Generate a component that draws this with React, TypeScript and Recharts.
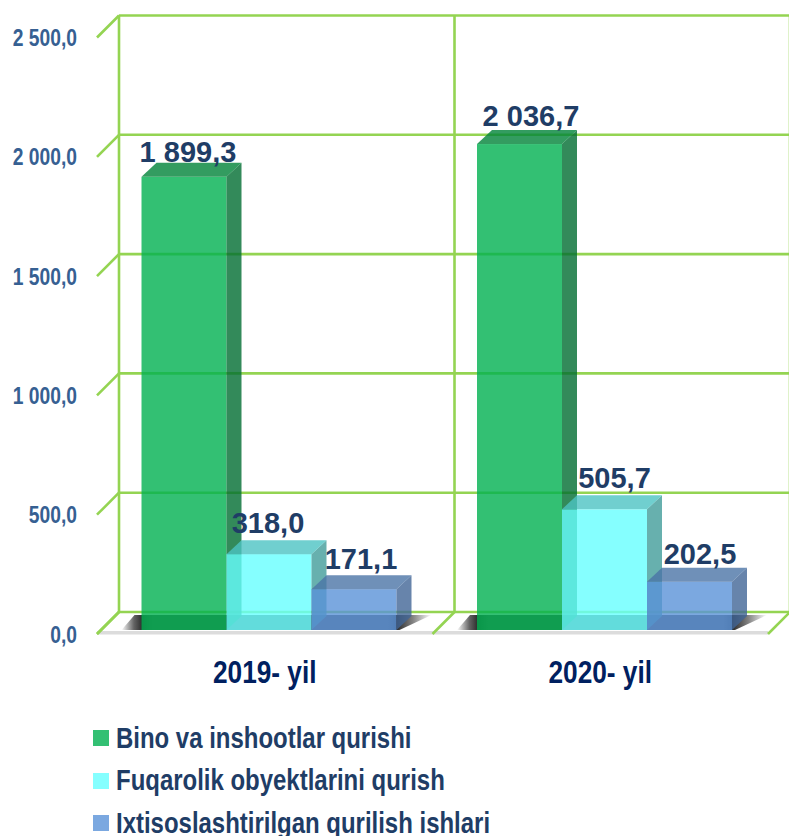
import { BarChart, Bar, XAxis, YAxis, CartesianGrid, Legend, LabelList } from 'recharts'

const years = ['2019- yil', '2020- yil']
const binoValues = [1899.3, 2036.7]
const fuqarolikValues = [318.0, 505.7]
const ixtisosValues = [171.1, 202.5]
const yTicks = [0, 500, 1000, 1500, 2000, 2500]

const data = years.map((year, i) => ({
  year,
  bino: binoValues[i],
  fuqarolik: fuqarolikValues[i],
  ixtisos: ixtisosValues[i],
}))

const SANS = '"Liberation Sans", Arial, sans-serif'
// no narrow face installed, so the axis and legend text is squeezed by hand
const NARROW_SCALE = 0.82
const LEGEND_SCALE = 0.826
const GRID = '#94d452'
const GRID_WIDTH = 2.6
const LABEL = '#1f3d66'

// how far the 3d walls sit from the plane the bars stand on
const WALL_DX = 18.5
const WALL_DY = -18
const FRONT_DX = -3.5
const FRONT_DY = 4
const DEPTH_X = 15
const DEPTH_Y = 14
const FILL_OPACITY = 0.8

const formatValue = (v: number) => {
  const [whole, frac] = v.toFixed(1).split('.')
  return `${whole.replace(/\B(?=(\d{3})+$)/g, ' ')},${frac}`
}

function Box3d({ x, y, width, height, fill, top, side, floorShadow }: any) {
  const base = y + height
  return (
    <g>
      {floorShadow && (
        <polygon
          points={`${x - 20},${base} ${x - 7},${base - 15} ${x + width * 3 + 35},${base - 15} ${x + width * 3 + 3},${base}`}
          fill="url(#floorShadow)"
        />
      )}
      <rect x={x} y={y} width={width} height={height} fill={fill} fillOpacity={FILL_OPACITY} />
      <polygon
        points={`${x + width},${y} ${x + width + DEPTH_X},${y - DEPTH_Y} ${x + width + DEPTH_X},${base - DEPTH_Y} ${x + width},${base}`}
        fill={side}
        fillOpacity={FILL_OPACITY}
      />
      <polygon
        points={`${x},${y} ${x + DEPTH_X},${y - DEPTH_Y} ${x + width + DEPTH_X},${y - DEPTH_Y} ${x + width},${y}`}
        fill={top}
        fillOpacity={FILL_OPACITY}
      />
    </g>
  )
}

// labels in the original are hand placed, so each has its own nudge
const makeLabel = (nudges: number[][]) => (props: any) => {
  const { x, y, width, value, index } = props
  const [dx, dy] = nudges[index]
  return (
    <text
      x={x + width / 2 + dx}
      y={y - dy}
      textAnchor="middle"
      fontFamily={SANS}
      fontWeight="bold"
      fontSize={29}
      fill={LABEL}
    >
      {formatValue(value)}
    </text>
  )
}

function WallRow({ x1, y1, x2, y2, index }: any) {
  const isFloor = index === 0
  return (
    <g key={`row-${index}`}>
      {isFloor && (
        <rect x={x1 + FRONT_DX} y={y1 + FRONT_DY - 3} width={x2 - x1} height={3.5} fill="#dcdcdc" />
      )}
      <line x1={x1 + WALL_DX} y1={y1 + WALL_DY} x2={x2 + WALL_DX} y2={y2 + WALL_DY} stroke={GRID} strokeWidth={GRID_WIDTH} />
      <line x1={x1 + FRONT_DX} y1={y1 + FRONT_DY} x2={x1 + WALL_DX} y2={y1 + WALL_DY} stroke={GRID} strokeWidth={GRID_WIDTH} />
    </g>
  )
}

function WallColumn({ x1, y1, x2, y2, index }: any) {
  return (
    <g key={`col-${index}`}>
      <line x1={x1 + WALL_DX} y1={y1 + WALL_DY} x2={x2 + WALL_DX} y2={y2 + WALL_DY} stroke={GRID} strokeWidth={GRID_WIDTH} />
      <line x1={x2 + FRONT_DX} y1={y2 + FRONT_DY} x2={x2 + WALL_DX} y2={y2 + WALL_DY} stroke={GRID} strokeWidth={GRID_WIDTH} />
    </g>
  )
}

function YTick({ y, payload }: any) {
  return (
    <text
      transform={`translate(77 ${y + FRONT_DY + 8.5}) scale(${NARROW_SCALE} 1)`}
      textAnchor="end"
      fontFamily={SANS}
      fontWeight="bold"
      fontSize={23.5}
      fill="#366092"
    >
      {formatValue(payload.value)}
    </text>
  )
}

function XTick({ x, payload }: any) {
  return (
    <text
      transform={`translate(${x + FRONT_DX} 683) scale(${NARROW_SCALE} 1)`}
      textAnchor="middle"
      fontFamily={SANS}
      fontWeight="bold"
      fontSize={32}
      fill="#002060"
    >
      {payload.value}
    </text>
  )
}

function LegendList({ payload }: any) {
  return (
    <div>
      {(payload || []).map((item: any) => (
        <div key={item.value} style={{ display: 'flex', alignItems: 'center', height: 42.5 }}>
          <span style={{ width: 16, height: 16, marginRight: 7, background: item.color, opacity: FILL_OPACITY }} />
          <span
            style={{
              fontFamily: SANS,
              fontWeight: 'bold',
              fontSize: 29,
              color: LABEL,
              whiteSpace: 'nowrap',
              transform: `scaleX(${LEGEND_SCALE})`,
              transformOrigin: 'left center',
            }}
          >
            {item.value}
          </span>
        </div>
      ))}
    </div>
  )
}

export default function App() {
  return (
    <div style={{ position: 'absolute', left: 0, top: 0, width: 789, height: 836, overflow: 'hidden' }}>
      <BarChart
        width={789}
        height={836}
        data={data}
        barGap={0}
        barCategoryGap={41}
        margin={{ top: 33.5, right: 17.5, bottom: 176, left: 0 }}
      >
        <defs>
          <linearGradient id="floorShadow" x1="0" y1="0" x2="1" y2="0">
            <stop offset="0" stopColor="#303030" stopOpacity={0} />
            <stop offset="0.04" stopColor="#303030" stopOpacity={0.75} />
            <stop offset="0.065" stopColor="#303030" />
            <stop offset="0.1" stopColor="#505050" />
            <stop offset="0.86" stopColor="#505050" />
            <stop offset="0.89" stopColor="#303030" />
            <stop offset="0.94" stopColor="#303030" stopOpacity={0.6} />
            <stop offset="1" stopColor="#303030" stopOpacity={0} />
          </linearGradient>
        </defs>
        <CartesianGrid
          horizontal={(p: any) => <WallRow {...p} />}
          vertical={(p: any) => <WallColumn {...p} />}
          verticalCoordinatesGenerator={({ offset }: any) => [
            offset.left,
            offset.left + offset.width / 2,
            offset.left + offset.width,
          ]}
        />
        <XAxis dataKey="year" axisLine={false} tickLine={false} height={30} tick={<XTick />} />
        <YAxis
          domain={[0, 2500]}
          ticks={yTicks}
          width={100.5}
          axisLine={false}
          tickLine={false}
          tick={<YTick />}
        />
        <Legend
          layout="horizontal"
          verticalAlign="middle"
          align="center"
          wrapperStyle={{ left: 93, top: 717, width: 500 }}
          content={<LegendList />}
        />
        <Bar
          dataKey="bino"
          name="Bino va inshootlar qurishi"
          fill="#00b050"
          isAnimationActive={false}
          shape={(p: any) => <Box3d {...p} top="#008338" side="#006d31" floorShadow />}
        >
          <LabelList dataKey="bino" content={makeLabel([[4, 15], [11.5, 18]])} />
        </Bar>
        <Bar
          dataKey="fuqarolik"
          name="Fuqarolik obyektlarini qurish"
          fill="#66ffff"
          isAnimationActive={false}
          shape={(p: any) => <Box3d {...p} top="#4cc3c3" side="#419c9a" />}
        >
          <LabelList dataKey="fuqarolik" content={makeLabel([[-1, 21], [10, 21]])} />
        </Bar>
        <Bar
          dataKey="ixtisos"
          name="Ixtisoslashtirilgan qurilish ishlari"
          fill="#5a92d8"
          isAnimationActive={false}
          shape={(p: any) => <Box3d {...p} top="#4b74a6" side="#416596" />}
        >
          <LabelList dataKey="ixtisos" content={makeLabel([[7, 20], [10.5, 18]])} />
        </Bar>
      </BarChart>
    </div>
  )
}
